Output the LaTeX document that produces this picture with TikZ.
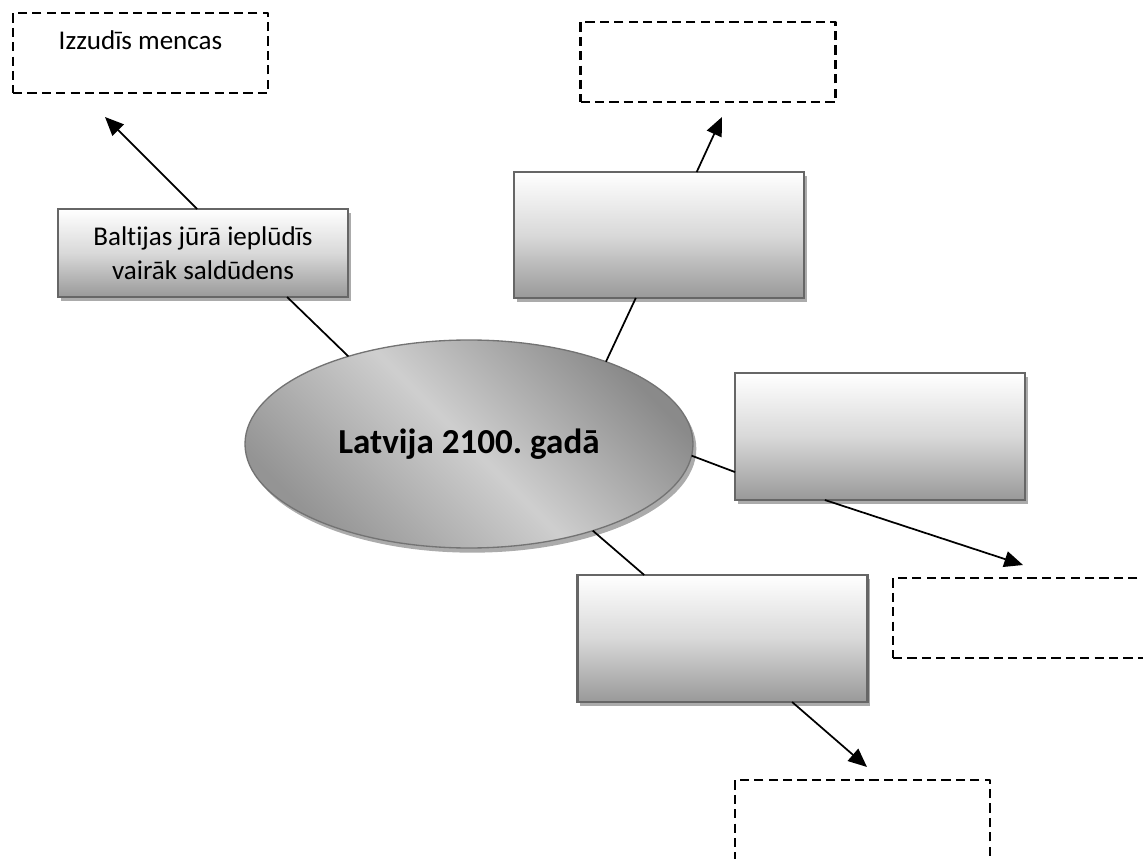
\documentclass[tikz,border=0pt]{standalone}
\usepackage{fontspec}
\setmainfont{Carlito}[Ligatures=NoCommon]
\usetikzlibrary{arrows.meta,shadows,calc,shapes.geometric}
\begin{document}
\frenchspacing
\begin{tikzpicture}[x=0.75pt,y=-0.75pt,
  txt/.style={font=\fontsize{20.3}{25.5}\selectfont, inner sep=0pt},
  dbox/.style={draw=black, line width=2pt, dash pattern=on 6.9pt off 3.9pt,
    line join=round, minimum width=191.25pt, minimum height=60pt, inner sep=0pt, outer sep=0pt},
  gbox/.style={rectangle, draw=black!60, line width=1.6pt, top color=white, bottom color=black!40,
    middle color=black!15, minimum width=217.5pt, inner sep=0pt, outer sep=0pt,
    align=center, font=\fontsize{20.3}{25.5}\selectfont,
    drop shadow={shadow xshift=2.2pt, shadow yshift=-3.2pt, fill=black!33, opacity=1}},
  centre/.style={ellipse, draw=black!55, line width=1pt, minimum width=336pt, minimum height=156pt,
    inner sep=0pt, outer sep=0pt, top color=black!46, bottom color=black!42, middle color=black!19,
    shading angle=-45, font=\bfseries\fontsize{26.3}{31}\selectfont,
    drop shadow={shadow xshift=2.5pt, shadow yshift=-3.5pt, fill=black!33, opacity=1}},
  conn/.style={draw=black, line width=1.3pt},
  arr/.style={conn, -{Triangle[length=14pt, width=12pt]}}]
\useasboundingbox (0,0) rectangle (1143,859);
\clip (0,0) rectangle (1143,859);

% dashed boxes
\node[dbox] (d1) at (140.5,53) {};
\node[txt, anchor=base] (l1) at (140.5,50) {Izzudīs mencas};
\node[dbox] (d2) at (708,62) {};
\node[dbox] (d3) at (1020.5,618) {};
\node[dbox] (d4) at (862.5,820) {};

% gradient boxes
\node[gbox, minimum height=66pt] (b1) at (203,253) {Baltijas jūrā ieplūdīs\\vairāk saldūdens};
\node[gbox, minimum height=94.5pt] (b2) at (659,235) {};
\node[gbox, minimum height=95.25pt] (b3) at (880,436.5) {};
\node[gbox, minimum height=95.25pt] (b4) at (722.5,638.5) {};

% centre ellipse
\node[centre] (ell) at (469,444) {Latvija 2100. gadā};

% connectors
\draw[conn] (ell.144.5) -- ($(b1.south west)!0.79!(b1.south east)$);
\draw[conn] (ell.31) -- ($(b2.south west)!0.42!(b2.south east)$);
\draw[conn] (ell.-3) -- ($(b3.north west)!0.78!(b3.south west)$);
\draw[conn] (ell.-35) -- ($(b4.north west)!0.23!(b4.north east)$);

% arrows
\coordinate (p1) at (105,117);
\coordinate (p2) at (722,117);
\coordinate (p3) at (1023,565);
\coordinate (p4) at (867,767);
\draw[arr] ($(b1.north west)!0.48!(b1.north east)$) -- (p1);
\draw[arr] ($(b2.north west)!0.63!(b2.north east)$) -- (p2);
\draw[arr] ($(b3.south west)!0.31!(b3.south east)$) -- (p3);
\draw[arr] ($(b4.south west)!0.74!(b4.south east)$) -- (p4);
\end{tikzpicture}
\end{document}
